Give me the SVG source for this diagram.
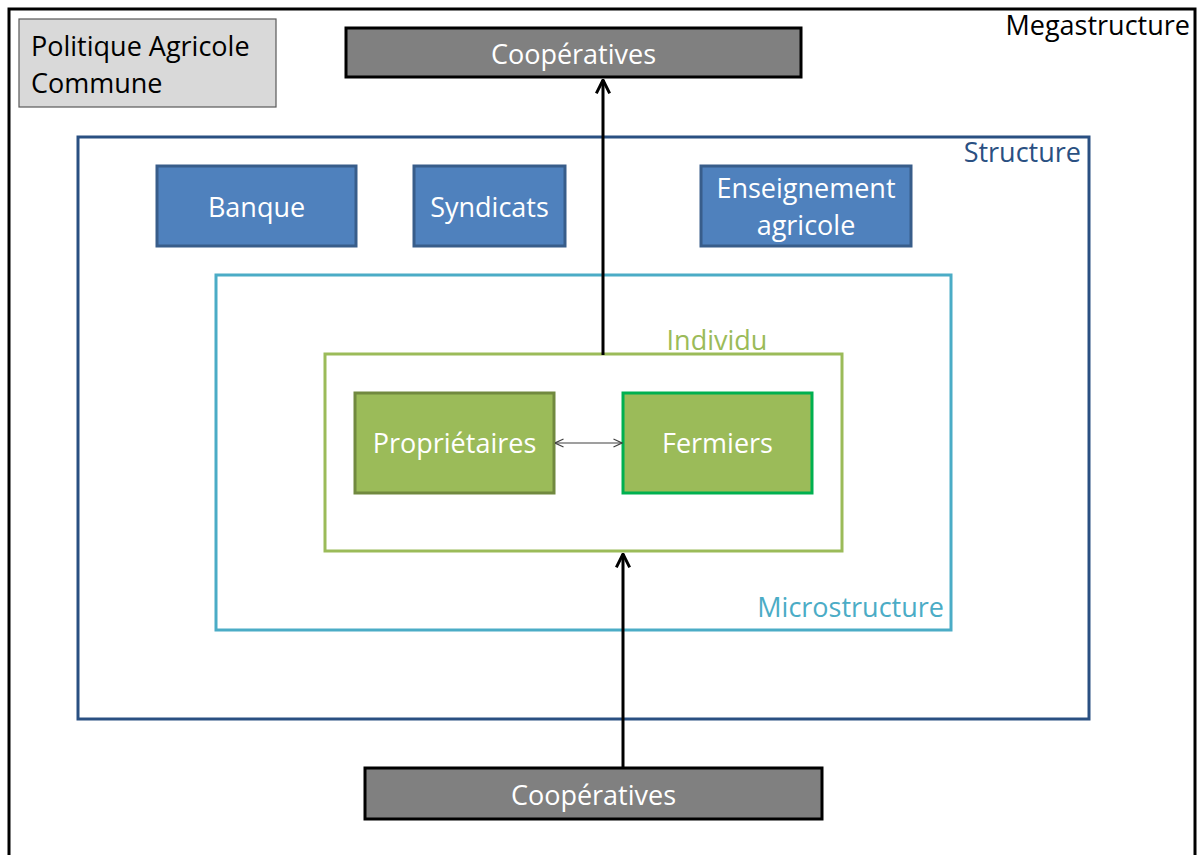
<svg xmlns="http://www.w3.org/2000/svg" width="1197" height="855" viewBox="0 0 1197 855">
<style>
text{font-family:"Open Sans",Lato,"Liberation Sans",sans-serif;font-size:27px}
.w{fill:#ffffff;text-anchor:middle}
.blue{fill:#4f81bd;stroke:#385d8a;stroke-width:3}
.green{fill:#9bbb59;stroke-width:3}
.coop{fill:#808080;stroke:#000000;stroke-width:3}
.conn{stroke:#000000;stroke-width:3;fill:none}
</style>
<defs>
<marker id="open" viewBox="0 0 12 12" refX="11" refY="6" markerWidth="16" markerHeight="16" orient="auto" markerUnits="userSpaceOnUse">
<path d="M1,1 L11,6 L1,11" fill="none" stroke="#000" stroke-width="2.2"/>
</marker>
<marker id="thin" viewBox="0 0 10 10" refX="9.5" refY="5" markerWidth="10" markerHeight="10" orient="auto-start-reverse" markerUnits="userSpaceOnUse">
<path d="M1,1 L9.5,5 L1,9" fill="none" stroke="#404040" stroke-width="1.2"/>
</marker>
</defs>
<rect width="1197" height="855" fill="#ffffff"/>
<g id="megastructure">
<rect x="9" y="9" width="1186" height="870" fill="none" stroke="#000000" stroke-width="3"/>
<text x="1190" y="35" text-anchor="end" fill="#000000">Megastructure</text>
</g>
<g id="pac">
<rect x="19" y="19" width="257" height="88" fill="#d9d9d9" stroke="#595959" stroke-width="1.2"/>
<text x="31" y="56" fill="#000000">Politique Agricole</text>
<text x="31" y="93" fill="#000000">Commune</text>
</g>
<g id="structure">
<rect x="78" y="137" width="1011" height="582" fill="none" stroke="#2a5082" stroke-width="3"/>
<text x="1081" y="162" text-anchor="end" fill="#2a5082">Structure</text>
</g>
<g id="banque">
<rect class="blue" x="157" y="166" width="199" height="80"/>
<text class="w" x="256.5" y="217">Banque</text>
</g>
<g id="syndicats">
<rect class="blue" x="414" y="166" width="151" height="80"/>
<text class="w" x="489.5" y="217">Syndicats</text>
</g>
<g id="enseignement">
<rect class="blue" x="701" y="166" width="210" height="80"/>
<text class="w" x="806" y="198">Enseignement</text>
<text class="w" x="806" y="235">agricole</text>
</g>
<g id="microstructure">
<rect x="216" y="275" width="735" height="355" fill="none" stroke="#4bacc6" stroke-width="3"/>
<text x="944" y="617" text-anchor="end" fill="#4bacc6">Microstructure</text>
</g>
<g id="individu">
<rect x="325" y="354" width="517" height="197" fill="none" stroke="#9bbb59" stroke-width="3"/>
<text x="717" y="350" text-anchor="middle" fill="#9bbb59">Individu</text>
</g>
<g id="proprietaires">
<rect class="green" x="355" y="393" width="199" height="100" stroke="#71893f"/>
<text class="w" x="454.5" y="453">Propriétaires</text>
</g>
<g id="fermiers">
<rect class="green" x="623" y="393" width="189" height="100" stroke="#00b050"/>
<text class="w" x="717.5" y="453">Fermiers</text>
</g>
<g id="coop-top">
<rect class="coop" x="346" y="28" width="455" height="49"/>
<text class="w" x="573.5" y="64">Coopératives</text>
</g>
<g id="coop-bottom">
<rect class="coop" x="365" y="768" width="457" height="51"/>
<text class="w" x="593.5" y="805">Coopératives</text>
</g>
<g id="connectors">
<line class="conn" x1="603" y1="355" x2="603" y2="80" marker-end="url(#open)"/>
<line class="conn" x1="623" y1="767" x2="623" y2="554" marker-end="url(#open)"/>
<line x1="555" y1="443" x2="622" y2="443" stroke="#404040" stroke-width="1.2" marker-start="url(#thin)" marker-end="url(#thin)"/>
</g>
</svg>
